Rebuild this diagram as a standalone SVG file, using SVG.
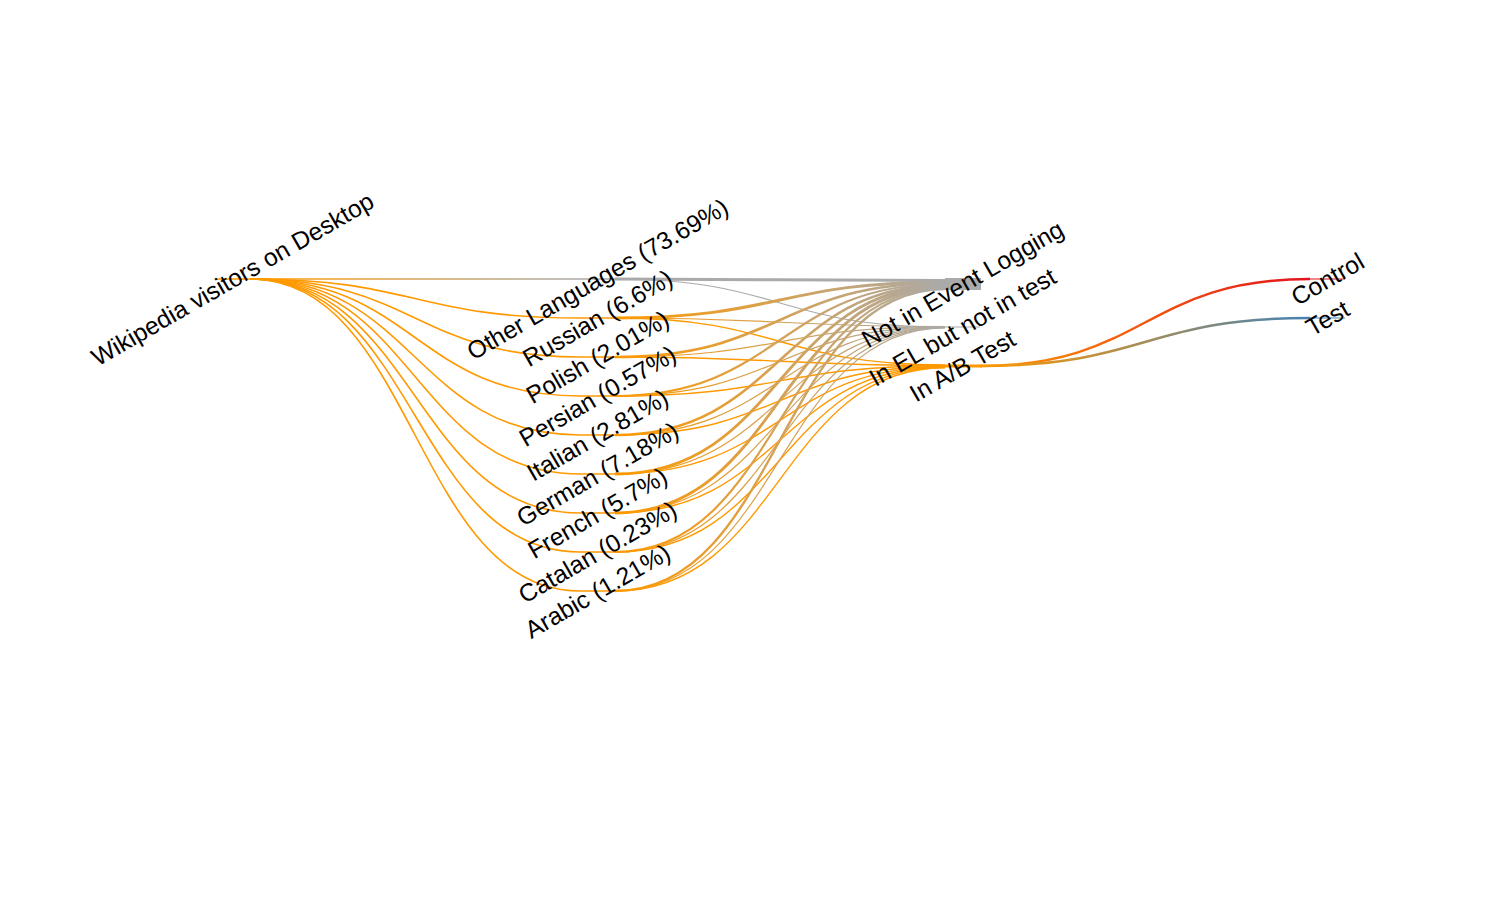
<svg xmlns="http://www.w3.org/2000/svg" width="1500" height="900" viewBox="0 0 1500 900">
<style>
.link{fill:none}
.or{stroke:#ff9900}
.gr{stroke:#aaaaaa}
.og1{stroke:url(#gOG1)}
.og2{stroke:url(#gOG2)}
.w1{stroke-width:1.6}
.wel{stroke-width:1.2}
.wab{stroke-width:1.4}
.stub{fill:none;stroke-width:1.6}
.lbl{font-family:"Liberation Sans",Arial,Helvetica,sans-serif;font-size:24.6px;fill:#000;text-anchor:middle}
</style>
<defs>
<linearGradient id="gOG1" gradientUnits="userSpaceOnUse" x1="250" y1="0" x2="580" y2="0"><stop offset="0" stop-color="#ff9900"/><stop offset="1" stop-color="#aaaaaa"/></linearGradient>
<linearGradient id="gOG2" gradientUnits="userSpaceOnUse" x1="615" y1="0" x2="945" y2="0"><stop offset="0" stop-color="#ff9900"/><stop offset="1" stop-color="#aaaaaa"/></linearGradient>
<linearGradient id="gRed" gradientUnits="userSpaceOnUse" x1="980" y1="0" x2="1310" y2="0"><stop offset="0" stop-color="#ff9900"/><stop offset="1" stop-color="#e3121e"/></linearGradient>
<linearGradient id="gBlue" gradientUnits="userSpaceOnUse" x1="980" y1="0" x2="1310" y2="0"><stop offset="0" stop-color="#ff9900"/><stop offset="1" stop-color="#4682b4"/></linearGradient>
</defs>
<rect width="1500" height="900" fill="#ffffff"/>
<g id="connectors">
<path class="link og1 w1" d="M250,279 L580,279"/>
<path class="link or w1" d="M250,279 C415,279 415,318 580,318"/>
<path class="link or w1" d="M250,279 C415,279 415,357 580,357"/>
<path class="link or w1" d="M250,279 C415,279 415,396 580,396"/>
<path class="link or w1" d="M250,279 C415,279 415,435 580,435"/>
<path class="link or w1" d="M250,279 C415,279 415,474 580,474"/>
<path class="link or w1" d="M250,279 C415,279 415,513 580,513"/>
<path class="link or w1" d="M250,279 C415,279 415,552 580,552"/>
<path class="link or w1" d="M250,279 C415,279 415,591 580,591"/>
<path class="link gr" stroke-width="3" d="M615,279 C780,279 780,280.5 945,280.5"/>
<path class="link gr wel" d="M615,279 C780,279 780,327 945,327"/>
<path class="link or wab" d="M615,318 C780,318 780,365 945,365"/>
<path class="link or wab" d="M615,357 C780,357 780,365.4 945,365.4"/>
<path class="link or wab" d="M615,396 C780,396 780,365.8 945,365.8"/>
<path class="link or wab" d="M615,435 C780,435 780,366.2 945,366.2"/>
<path class="link or wab" d="M615,474 C780,474 780,366.6 945,366.6"/>
<path class="link or wab" d="M615,513 C780,513 780,367 945,367"/>
<path class="link or wab" d="M615,552 C780,552 780,367.4 945,367.4"/>
<path class="link or wab" d="M615,591 C780,591 780,367.8 945,367.8"/>
<path class="link og2 wel" d="M615,318 C780,318 780,326.5 945,326.5"/>
<path class="link og2 wel" d="M615,357 C780,357 780,326.7 945,326.7"/>
<path class="link og2 wel" d="M615,396 C780,396 780,326.9 945,326.9"/>
<path class="link og2 wel" d="M615,435 C780,435 780,327 945,327"/>
<path class="link og2 wel" d="M615,474 C780,474 780,327.2 945,327.2"/>
<path class="link og2 wel" d="M615,513 C780,513 780,327.4 945,327.4"/>
<path class="link og2 wel" d="M615,552 C780,552 780,327.6 945,327.6"/>
<path class="link og2 wel" d="M615,591 C780,591 780,327.8 945,327.8"/>
<path class="link og2" stroke-width="3" d="M615,318 C780,318 780,282 945,282"/>
<path class="link og2" stroke-width="2.6" d="M615,357 C780,357 780,283 945,283"/>
<path class="link og2" stroke-width="2.2" d="M615,396 C780,396 780,284 945,284"/>
<path class="link og2" stroke-width="2.6" d="M615,435 C780,435 780,285 945,285"/>
<path class="link og2" stroke-width="2.8" d="M615,474 C780,474 780,286 945,286"/>
<path class="link og2" stroke-width="2.8" d="M615,513 C780,513 780,287 945,287"/>
<path class="link og2" stroke-width="2.2" d="M615,552 C780,552 780,288 945,288"/>
<path class="link og2" stroke-width="2.4" d="M615,591 C780,591 780,289 945,289"/>
<path class="link" stroke="url(#gRed)" stroke-width="2.5" d="M980,366 C1145,366 1145,279 1310,279"/>
<path class="link" stroke="url(#gBlue)" stroke-width="2.5" d="M980,366 C1145,366 1145,318 1310,318"/>
</g>
<g id="node-root"><path class="stub or" d="M215,279 H250"/><text class="lbl" x="232.5" y="279" dy="0.35em" transform="rotate(-30 232.5 279)">Wikipedia visitors on Desktop</text></g>
<g id="node-other"><path class="stub gr" d="M580,279 H615"/><text class="lbl" x="597.5" y="279" dy="0.35em" transform="rotate(-30 597.5 279)">Other Languages (73.69%)</text></g>
<g id="node-russian"><path class="stub or" d="M580,318 H615"/><text class="lbl" x="597.5" y="318" dy="0.35em" transform="rotate(-30 597.5 318)">Russian (6.6%)</text></g>
<g id="node-polish"><path class="stub or" d="M580,357 H615"/><text class="lbl" x="597.5" y="357" dy="0.35em" transform="rotate(-30 597.5 357)">Polish (2.01%)</text></g>
<g id="node-persian"><path class="stub or" d="M580,396 H615"/><text class="lbl" x="597.5" y="396" dy="0.35em" transform="rotate(-30 597.5 396)">Persian (0.57%)</text></g>
<g id="node-italian"><path class="stub or" d="M580,435 H615"/><text class="lbl" x="597.5" y="435" dy="0.35em" transform="rotate(-30 597.5 435)">Italian (2.81%)</text></g>
<g id="node-german"><path class="stub or" d="M580,474 H615"/><text class="lbl" x="597.5" y="474" dy="0.35em" transform="rotate(-30 597.5 474)">German (7.18%)</text></g>
<g id="node-french"><path class="stub or" d="M580,513 H615"/><text class="lbl" x="597.5" y="513" dy="0.35em" transform="rotate(-30 597.5 513)">French (5.7%)</text></g>
<g id="node-catalan"><path class="stub or" d="M580,552 H615"/><text class="lbl" x="597.5" y="552" dy="0.35em" transform="rotate(-30 597.5 552)">Catalan (0.23%)</text></g>
<g id="node-arabic"><path class="stub or" d="M580,591 H615"/><text class="lbl" x="597.5" y="591" dy="0.35em" transform="rotate(-30 597.5 591)">Arabic (1.21%)</text></g>
<g id="node-not-el"><path class="stub gr" style="stroke-width:12" d="M945,284 H981"/><text class="lbl" x="962.5" y="284" dy="0.35em" transform="rotate(-30 962.5 284)">Not in Event Logging</text></g>
<g id="node-el-not-test"><path class="stub gr" style="stroke-width:1.2" d="M945,327 H980"/><text class="lbl" x="962.5" y="327" dy="0.35em" transform="rotate(-30 962.5 327)">In EL but not in test</text></g>
<g id="node-ab"><path class="stub or" style="stroke-width:3" d="M945,366 H982"/><text class="lbl" x="962.5" y="366" dy="0.35em" transform="rotate(-30 962.5 366)">In A/B Test</text></g>
<g id="node-control"><path class="stub" stroke="#e3121e" style="stroke-width:1.2" d="M1310,279 H1345"/><text class="lbl" x="1327.5" y="279" dy="0.35em" transform="rotate(-30 1327.5 279)">Control</text></g>
<g id="node-test"><path class="stub" stroke="#4682b4" style="stroke-width:1.2" d="M1310,318 H1345"/><text class="lbl" x="1327.5" y="318" dy="0.35em" transform="rotate(-30 1327.5 318)">Test</text></g>
</svg>
